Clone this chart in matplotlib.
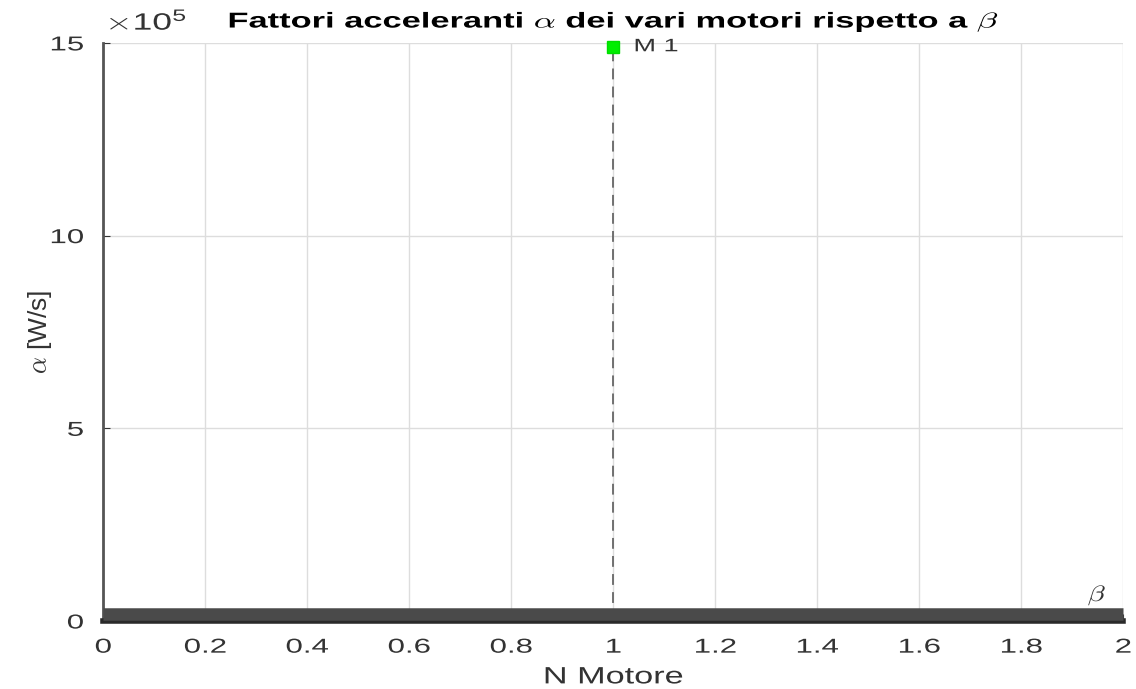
import matplotlib.pyplot as plt
from matplotlib import patheffects
from matplotlib.transforms import Affine2D

plt.rcParams['font.family'] = ['Liberation Sans', 'DejaVu Sans']
plt.rcParams['mathtext.fontset'] = 'cm'

# fattori acceleranti dei motori [W/s]
n_motore = [1]
alpha = [1.49e6]
motor_labels = ["M 1"]
beta = 1.8e4

x_ticks = [0, 0.2, 0.4, 0.6, 0.8, 1, 1.2, 1.4, 1.6, 1.8, 2]
x_ticklabels = ["0", "0.2", "0.4", "0.6", "0.8", "1", "1.2", "1.4", "1.6", "1.8", "2"]
y_ticks = [0, 5e5, 10e5, 15e5]
y_ticklabels = ["0", "5", "10", "15"]


class HStretch(patheffects.AbstractPathEffect):
    """Draws text glyphs widened horizontally around an anchor."""

    def __init__(self, sx=1.5, anchor='center'):
        super().__init__()
        self.sx = sx
        self.anchor = anchor

    def draw_path(self, renderer, gc, tpath, affine, rgbFace=None):
        v = tpath.vertices
        c = 0.0
        if len(v):
            lo, hi = v[:, 0].min(), v[:, 0].max()
            c = {'left': 0.0, 'right': hi, 'center': (lo + hi) / 2}[self.anchor]
        stretch = Affine2D().translate(-c, 0).scale(self.sx, 1).translate(c, 0)
        renderer.draw_path(gc, tpath, stretch + affine, rgbFace)


fig = plt.figure(figsize=(11.36, 6.89), dpi=100)
ax = fig.add_axes([0.0907, 0.0987, 0.8979, 0.839])

# linea di beta
ax.axhline(beta, color='#4a4a4a', lw=9, solid_capstyle='butt', clip_on=False, zorder=3)
ax.text(1.968, beta + 1.6e4, r'$\beta$', fontsize=16, color='#333333', ha='right', va='bottom',
        path_effects=[HStretch(1.3, 'right')])

for xm, am, lab in zip(n_motore, alpha, motor_labels):
    ax.plot([xm, xm], [0, am], ls='--', color='#666666', lw=1.3, dashes=(6, 4), zorder=2)
    ax.plot(xm, am, marker='s', ms=9, color='#00ee00', mec='#00dd00', zorder=4, clip_on=False)
    ax.text(xm + 0.04, am, lab, fontsize=13, color='#333333', va='center', ha='left',
            path_effects=[HStretch(1.5, 'left')])

ax.set_xlim(0, 2)
ax.set_ylim(0, 1.5e6)
ax.set_xticks(x_ticks)
ax.set_xticklabels(x_ticklabels)
ax.set_yticks(y_ticks)
ax.set_yticklabels(y_ticklabels)
ax.tick_params(direction='in', length=5, labelsize=14.5, colors='#333333')
ax.tick_params(axis='x', pad=12)
ax.tick_params(axis='y', pad=14)
plt.setp(ax.get_xticklabels(), path_effects=[HStretch(1.55, 'center')])
plt.setp(ax.get_yticklabels(), path_effects=[HStretch(1.55, 'right')])

ax.grid(True, color='#dddddd', lw=1)
ax.set_axisbelow(True)
for s in ['top', 'right']:
    ax.spines[s].set_visible(False)
ax.spines['left'].set_color('#555555')
ax.spines['left'].set_linewidth(2)
ax.spines['bottom'].set_color('#2a2a2a')
ax.spines['bottom'].set_linewidth(4)

ax.text(0.002, 1.014, r'$\times\mathregular{10^5}$', transform=ax.transAxes,
        fontsize=17, color='#333333', ha='left', va='bottom',
        path_effects=[HStretch(1.5, 'left')])

ax.set_title(r'Fattori acceleranti $\alpha$ dei vari motori rispetto a $\beta$',
             fontsize=15.5, fontweight='bold', pad=11,
             path_effects=[HStretch(1.6, 'center')])
ax.set_xlabel('N Motore', fontsize=17, color='#333333', labelpad=7,
              path_effects=[HStretch(1.45, 'center')])
ax.set_ylabel(r'$\alpha$ [W/s]', fontsize=19, color='#333333', labelpad=5)

fig.savefig('out.png', dpi=100)
